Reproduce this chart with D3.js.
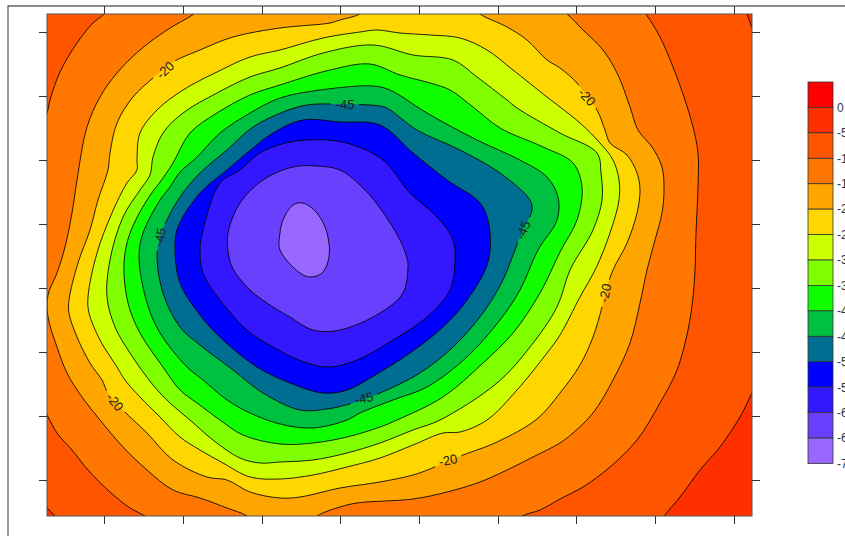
<!DOCTYPE html>
<html>
<head>
<meta charset="utf-8">
<script src="https://cdn.jsdelivr.net/npm/d3@7/dist/d3.min.js"></script>
<style>
html,body{margin:0;padding:0;background:#fff;overflow:hidden}
svg{display:block}
text{font-family:"Liberation Sans",Arial,sans-serif}
</style>
</head>
<body>
<svg id="chart" width="845" height="536"></svg>
<script>
// Legend classes (value = lower edge of each class)
const legendLevels = [0,-5,-10,-15,-20,-25,-30,-35,-40,-45,-50,-55,-60,-65,-70];
const legendColors = ["#ff0000","#ff3000","#ff5500","#ff7700","#ffa500","#ffd700","#ccff00","#7fff00","#10ff00","#00c040","#006e90","#0000ff","#3318ff","#6a40ff","#9966ff"];
// Map axis ticks (map units)
const xTickValues = [104,183,262,340,419,498,576,655,734];
const yTickValues = [32,96,160,224,288,352,416,480];
const cornerM5a = [[752,393],[740,417],[720,447],[700,470],[680,497],[665,515],[652,532],[700,550],[790,540],[800,350],[765,368]];
const cornerM5b = [[747,14],[752,28],[758,40],[775,30],[770,0],[742,4]];
const cornerM5c = [[47,508],[55,516],[62,526],[40,540],[30,520],[38,498]];
const contourM10 = [[113,0],[250,-10],[400,-10],[560,-10],[636,0],[646,14],[660,37],[673,67],[685,100],[693,127],[698,153],[698,187],[696,233],[695,270],[693,297],[688,330],[677,370],[660,403],[637,440],[610,467],[583,487],[560,499],[540,510],[522,516],[505,528],[400,540],[250,540],[160,527],[145,516],[130,508],[110,492],[88,470],[72,450],[57,433],[47,415],[35,395],[25,300],[25,200],[38,130],[47,113],[50,100],[60,72],[77,43],[93,23],[104,14]];
const contourM15 = [[210,2],[300,-5],[450,-5],[550,2],[567,14],[583,30],[603,50],[618,75],[630,107],[638,130],[652,147],[662,167],[664,190],[662,213],[655,240],[647,270],[640,303],[630,343],[613,380],[593,413],[573,433],[560,443],[533,457],[507,470],[480,482],[447,492],[413,499],[357,503],[340,507],[317,516],[305,528],[260,528],[247,516],[227,508],[200,498],[173,490],[147,470],[123,447],[100,420],[82,397],[67,373],[57,347],[48,317],[48,295],[57,273],[65,247],[72,213],[77,180],[87,127],[100,97],[117,73],[140,50],[167,30],[194,14]];
const contourM20 = [[372,4],[425,0],[470,4],[480,14],[507,27],[527,40],[547,60],[560,68],[577,83],[587,97],[597,110],[605,130],[610,143],[627,155],[637,173],[640,190],[637,213],[627,243],[613,270],[605,293],[602,307],[593,337],[580,365],[560,393],[537,419],[497,442],[463,455],[448,461],[430,469],[413,475],[380,482],[340,488],[300,497],[280,498],[250,492],[227,480],[207,477],[173,460],[147,433],[123,410],[108,393],[102,380],[90,363],[77,337],[69,313],[69,300],[78,263],[90,230],[98,200],[108,170],[110,153],[117,123],[133,97],[153,78],[173,62],[200,50],[233,37],[280,28],[330,23],[340,20],[360,14]];
const contourM25 = [[280,50],[323,38],[360,32],[377,30],[400,33],[430,35],[460,38],[487,50],[513,70],[547,97],[560,107],[580,123],[600,143],[613,160],[619,180],[619,200],[610,233],[596,268],[580,297],[560,335],[547,353],[517,390],[487,420],[460,432],[443,433],[413,445],[380,458],[347,467],[313,475],[280,479],[250,477],[223,463],[200,450],[180,437],[160,417],[140,397],[125,380],[117,367],[100,340],[89,313],[88,297],[97,253],[112,213],[127,183],[137,170],[137,160],[140,133],[157,110],[183,90],[217,72],[250,57]];
const contourM30 = [[280,68],[323,53],[373,45],[413,55],[453,60],[477,77],[507,100],[517,108],[560,133],[597,153],[601,173],[602,200],[593,230],[570,270],[557,307],[530,347],[497,383],[440,420],[413,430],[380,443],[347,453],[313,460],[280,462],[260,463],[240,458],[213,440],[190,420],[170,403],[153,385],[130,353],[115,327],[107,297],[110,260],[123,217],[140,190],[150,175],[153,157],[163,133],[183,113],[217,93],[250,77]];
const contourM35 = [[280,85],[330,70],[370,64],[400,75],[430,83],[450,90],[473,107],[500,128],[543,147],[573,163],[582,187],[577,220],[561,250],[540,293],[513,333],[483,363],[443,397],[397,420],[380,427],[347,437],[313,443],[280,444],[243,435],[220,420],[197,403],[180,390],[163,367],[140,333],[128,303],[124,263],[130,233],[147,200],[163,178],[173,163],[190,133],[217,113],[250,95]];
const contourM40 = [[280,98],[320,90],[373,86],[390,90],[427,113],[477,140],[520,160],[547,177],[558,197],[557,220],[538,250],[520,290],[500,320],[467,357],[427,387],[393,400],[360,413],[347,420],[313,428],[280,424],[250,413],[227,400],[203,380],[187,367],[160,333],[147,303],[139,257],[143,233],[160,200],[170,187],[180,172],[197,157],[220,133],[250,113]];
const contourM45 = [[307,105],[333,104],[380,106],[387,108],[417,130],[460,150],[500,173],[530,200],[532,210],[523,230],[515,250],[503,280],[483,313],[453,347],[420,373],[380,393],[353,403],[327,409],[300,410],[263,393],[233,370],[200,345],[180,327],[163,293],[157,257],[160,237],[167,220],[180,197],[200,173],[227,150],[253,127],[283,112]];
const contourM50 = [[303,120],[340,122],[380,125],[413,153],[447,180],[480,203],[489,225],[488,262],[467,300],[443,327],[410,353],[380,372],[347,390],[323,393],[290,383],[257,367],[223,340],[200,315],[180,283],[175,247],[178,227],[200,193],[227,170],[247,153],[273,133]];
const contourM55 = [[290,142],[327,140],[353,145],[383,160],[410,193],[437,217],[453,240],[455,260],[450,290],[427,317],[393,340],[357,360],[330,367],[307,363],[273,347],[247,330],[220,300],[203,273],[200,250],[203,230],[220,183],[240,170],[260,153]];
const contourM60 = [[293,167],[317,166],[340,170],[360,185],[380,208],[400,240],[407,258],[408,267],[403,293],[380,313],[340,330],[313,330],[290,317],[273,307],[250,290],[232,267],[228,250],[228,233],[240,203],[263,180]];
const contourM65 = [[303,203],[317,213],[327,233],[329,257],[322,273],[310,277],[300,273],[280,250],[280,233],[283,220],[293,205]];
// Contour labels: [text, x, y, angle]
const contourLabels = [["-20",165,70,-42],["-20",587,97,47],["-20",605,293,-78],["-20",115,402,52],["-20",448,460,-12],["-45",345,104,0],["-45",160,237,-80],["-45",523,230,-68],["-45",364,398,-12]];

const W = 845, H = 536;
const plot = {left:47, top:14, right:752, bottom:516};
const x = d3.scaleLinear().domain([47,752]).range([plot.left,plot.right]);
const y = d3.scaleLinear().domain([14,516]).range([plot.top,plot.bottom]);
const color = d3.scaleOrdinal().domain(legendLevels).range(legendColors);
const legendY = d3.scaleLinear().domain([5,-70]).range([82,463.5]);

const svg = d3.select("#chart");
const defs = svg.append("defs");
defs.append("clipPath").attr("id","plotClip").append("rect")
  .attr("x",plot.left).attr("y",plot.top).attr("width",plot.right-plot.left).attr("height",plot.bottom-plot.top);
const mask = defs.append("mask").attr("id","labelGaps").attr("maskUnits","userSpaceOnUse")
  .attr("x",0).attr("y",0).attr("width",W).attr("height",H);
mask.append("rect").attr("width",W).attr("height",H).attr("fill","#fff");
mask.selectAll("rect.gap").data(contourLabels).join("rect").attr("class","gap")
  .attr("x",-14).attr("y",-6).attr("width",28).attr("height",12).attr("fill","#000")
  .attr("transform",d=>`translate(${x(d[1])},${y(d[2])}) rotate(${d[3]})`);

// outer frame
svg.append("path").attr("d",d3.line()([[8,H],[8,6],[W,6]])).attr("fill","none").attr("stroke","#666").attr("stroke-width",1.3);

// filled classes: each contour fills the class just below its level
const rings = [
  {ring:cornerM5a, band:-5},{ring:cornerM5b, band:-5},{ring:cornerM5c, band:-5},
  {ring:contourM10, band:-15},{ring:contourM15, band:-20},{ring:contourM20, band:-25},
  {ring:contourM25, band:-30},{ring:contourM30, band:-35},{ring:contourM35, band:-40},
  {ring:contourM40, band:-45},{ring:contourM45, band:-50},{ring:contourM50, band:-55},
  {ring:contourM55, band:-60},{ring:contourM60, band:-65},{ring:contourM65, band:-70}
];
const line = d3.line().x(d=>x(d[0])).y(d=>y(d[1])).curve(d3.curveCatmullRomClosed.alpha(0.5));

const map = svg.append("g").attr("clip-path","url(#plotClip)");
map.append("rect").attr("x",plot.left).attr("y",plot.top).attr("width",plot.right-plot.left).attr("height",plot.bottom-plot.top).attr("fill",color(-10));
map.append("g").selectAll("path").data(rings).join("path").attr("d",d=>line(d.ring)).attr("fill",d=>color(d.band));
map.append("g").attr("mask","url(#labelGaps)").selectAll("path").data(rings).join("path")
  .attr("d",d=>line(d.ring)).attr("fill","none").attr("stroke","#000").attr("stroke-opacity",.85).attr("stroke-width",1);

// contour labels
svg.append("g").selectAll("text").data(contourLabels).join("text")
  .attr("transform",d=>`translate(${x(d[1])},${y(d[2])}) rotate(${d[3]})`)
  .attr("text-anchor","middle").attr("dy","0.36em").attr("font-size",13).attr("fill","#222").text(d=>d[0]);

// plot border + ticks on all four sides
svg.append("rect").attr("x",plot.left).attr("y",plot.top).attr("width",plot.right-plot.left).attr("height",plot.bottom-plot.top)
  .attr("fill","none").attr("stroke","#555").attr("stroke-width",1);
const axes = [
  [d3.axisTop(x).tickValues(xTickValues), `translate(0,${plot.top})`],
  [d3.axisBottom(x).tickValues(xTickValues), `translate(0,${plot.bottom})`],
  [d3.axisLeft(y).tickValues(yTickValues), `translate(${plot.left},0)`],
  [d3.axisRight(y).tickValues(yTickValues), `translate(${plot.right},0)`]
];
axes.forEach(([a,t])=>{
  const g = svg.append("g").attr("transform",t).call(a.tickSize(8).tickFormat(""));
  g.select(".domain").remove();
  g.selectAll("line").attr("stroke","#333").attr("stroke-width",1);
});

// colour legend
const legend = svg.append("g");
legend.selectAll("rect").data(legendLevels).join("rect")
  .attr("x",808).attr("width",25)
  .attr("y",d=>legendY(d+5)).attr("height",d=>legendY(d)-legendY(d+5))
  .attr("fill",d=>color(d)).attr("stroke","#333").attr("stroke-width",.8);
legend.selectAll("text").data(legendLevels).join("text")
  .attr("x",837).attr("y",d=>legendY(d)).attr("dy","0.36em")
  .attr("font-size",12).attr("fill","#333").text(d=>d);
</script>
</body>
</html>
